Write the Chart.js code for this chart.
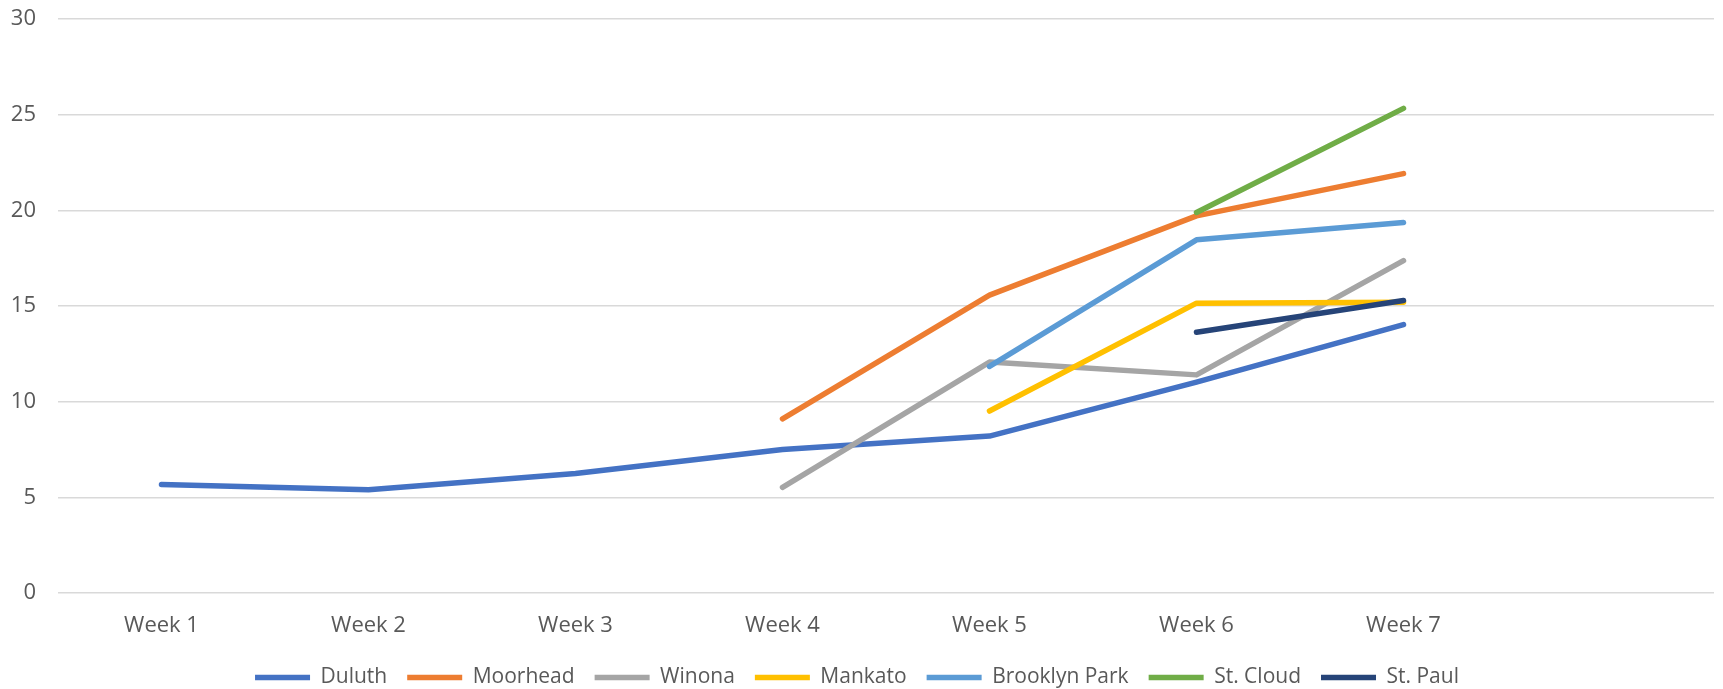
<!DOCTYPE html>
<html>
<head>
<meta charset="utf-8">
<script src="https://cdn.jsdelivr.net/npm/chart.js@4"></script>
<style>
    body { margin: 0; background: #fff; }
    #wrap { width: 1723px; height: 689px; position: relative; }
</style>
</head>
<body>
<div id="wrap"><canvas id="line-chart"></canvas></div>
<script>
// categories (last one is an empty slot, like the original)
const weeks = ["Week 1", "Week 2", "Week 3", "Week 4", "Week 5", "Week 6", "Week 7", ""];

// series values
const duluth       = [5.67, 5.4, 6.25, 7.5, 8.2, 11.02, 14.03, null];
const moorhead     = [null, null, null, 9.1, 15.57, 19.71, 21.92, null];
const winona       = [null, null, null, 5.52, 12.07, 11.4, 17.37, null];
const mankato      = [null, null, null, null, 9.51, 15.15, 15.2, null];
const brooklynPark = [null, null, null, null, 11.84, 18.46, 19.37, null];
const stCloud      = [null, null, null, null, null, 19.89, 25.33, null];
const stPaul       = [null, null, null, null, null, 13.63, 15.29, null];

const yTicks = [0, 5, 10, 15, 20, 25, 30];

const series = [
    { label: "Duluth", data: duluth, color: "#4472C4" },
    { label: "Moorhead", data: moorhead, color: "#ED7D31" },
    { label: "Winona", data: winona, color: "#A5A5A5" },
    { label: "Mankato", data: mankato, color: "#FFC000" },
    { label: "Brooklyn Park", data: brooklynPark, color: "#5B9BD5" },
    { label: "St. Cloud", data: stCloud, color: "#70AD47" },
    { label: "St. Paul", data: stPaul, color: "#264478" },
];

function renderChart() {
    const tickFont = { family: "'Open Sans', 'DejaVu Sans', sans-serif", size: 22 };
    const legendFont = { family: "'Open Sans', 'DejaVu Sans', sans-serif", size: 21 };

    new Chart(document.getElementById("line-chart"), {
        type: "line",
        data: {
            labels: weeks,
            datasets: series.map(function (s, i) {
                return {
                    label: s.label,
                    data: s.data,
                    borderColor: s.color,
                    backgroundColor: s.color,
                    borderWidth: 5.5,
                    borderCapStyle: "round",
                    borderJoinStyle: "round",
                    pointRadius: 0,
                    pointHoverRadius: 0,
                    tension: 0,
                    fill: false,
                    spanGaps: false,
                    // later series drawn on top
                    order: series.length - i,
                };
            }),
        },
        options: {
            responsive: true,
            maintainAspectRatio: false,
            animation: false,
            layout: { padding: { top: 19, right: 9, left: 0, bottom: -9 } },
            plugins: {
                tooltip: { enabled: false },
                legend: {
                    position: "bottom",
                    labels: {
                        font: legendFont,
                        color: "#595959",
                        usePointStyle: true,
                        pointStyle: "line",
                        pointStyleWidth: 55,
                        boxHeight: 6,
                        padding: 20,
                        sort: function (a, b) { return a.datasetIndex - b.datasetIndex; },
                    },
                },
            },
            scales: {
                x: {
                    offset: true,
                    grid: { display: false },
                    border: { display: false },
                    ticks: { font: tickFont, color: "#595959", padding: 12, maxRotation: 0, autoSkip: false },
                    afterFit: function (s) { s.height = 54; },
                },
                y: {
                    min: 0,
                    max: 30,
                    afterBuildTicks: function (s) { s.ticks = yTicks.map(function (v) { return { value: v }; }); },
                    // invisible tick marks keep the labels away from the plot
                    grid: { color: "#D9D9D9", lineWidth: 1.5, drawTicks: true, tickLength: 19, tickColor: "rgba(0,0,0,0)" },
                    border: { display: false },
                    ticks: { font: tickFont, color: "#595959", padding: 3 },
                    afterFit: function (s) { s.width = 58; },
                },
            },
        },
    });
}

renderChart();
</script>
</body>
</html>
